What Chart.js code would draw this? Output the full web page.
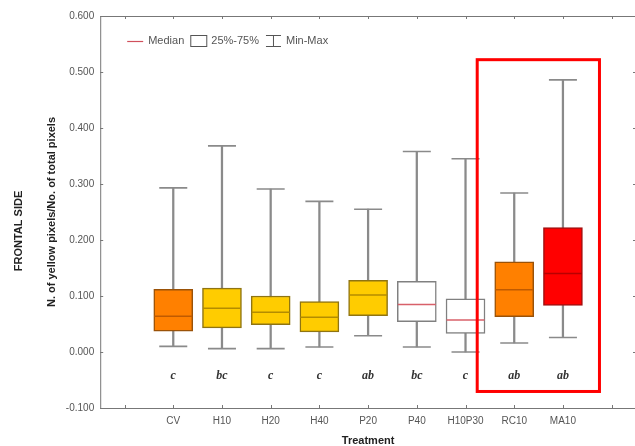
<!DOCTYPE html>
<html lang="en">
<head>
  <meta charset="UTF-8" />
  <title>Frontal side - yellow pixels</title>
  <script src="https://cdn.jsdelivr.net/npm/chart.js"></script>
  <style>
    html, body {
      margin: 0;
      padding: 0;
      background: #fff;
      overflow: hidden;
    }
  </style>
</head>
<body>
  <canvas id="boxChart" width="640" height="446"></canvas>

  <script>
    // values
    const treatments = ['CV', 'H10', 'H20', 'H40', 'P20', 'P40', 'H10P30', 'RC10', 'MA10'];
    const mins    = [0.010, 0.006, 0.006, 0.009, 0.029, 0.009, 0.000, 0.016, 0.026];
    const q1s     = [0.037, 0.043, 0.049, 0.036, 0.065, 0.054, 0.033, 0.063, 0.083];
    const medians = [0.064, 0.078, 0.071, 0.062, 0.102, 0.085, 0.057, 0.111, 0.140];
    const q3s     = [0.112, 0.114, 0.100, 0.090, 0.128, 0.126, 0.095, 0.161, 0.222];
    const maxs    = [0.293, 0.368, 0.291, 0.269, 0.255, 0.358, 0.345, 0.284, 0.486];
    const letters = ['c', 'bc', 'c', 'c', 'ab', 'bc', 'c', 'ab', 'ab'];
    const yTicks  = [-0.1, 0, 0.1, 0.2, 0.3, 0.4, 0.5, 0.6];

    const fills   = ['#ff8000', '#ffcc00', '#ffcc00', '#ffcc00', '#ffcc00', '#ffffff', '#ffffff', '#ff8000', '#ff0000'];
    const borders = ['#9a5208', '#8f7412', '#8f7412', '#8f7412', '#8f7412', '#808080', '#808080', '#9a5208', '#a01010'];
    const medCols = ['#c05a00', '#b48c00', '#b48c00', '#b48c00', '#b48c00', '#d8606a', '#d8606a', '#c05a00', '#b80000'];

    // highlight frame round RC10 / MA10 (category index, value)
    const highlight = { from: 7.24, to: 9.75, top: 0.522, bottom: -0.0705 };

    // one empty slot on each side, as in the original plot
    const labels = [''].concat(treatments, ['']);
    const pad = arr => [null].concat(arr, [null]);

    const font = "'Liberation Sans', Arial, sans-serif";

    const framePlugin = {
      id: 'frame',
      afterDatasetsDraw(chart) {
        const { ctx, chartArea: a, scales: { x, y } } = chart;
        ctx.save();
        ctx.strokeStyle = '#777';
        ctx.lineWidth = 1;
        ctx.strokeRect(a.left + 0.5, a.top + 0.5, a.right - a.left, a.bottom - a.top);
        ctx.beginPath();
        x.ticks.forEach((t, i) => {
          const px = Math.round(x.getPixelForTick(i)) + 0.5;
          ctx.moveTo(px, a.top); ctx.lineTo(px, a.top + 3);
          ctx.moveTo(px, a.bottom); ctx.lineTo(px, a.bottom - 3);
        });
        y.ticks.forEach((t, i) => {
          const py = Math.round(y.getPixelForTick(i)) + 0.5;
          ctx.moveTo(a.left, py); ctx.lineTo(a.left + 3, py);
          ctx.moveTo(a.right, py); ctx.lineTo(a.right - 3, py);
        });
        ctx.stroke();

        // significance letters
        ctx.fillStyle = '#333';
        ctx.font = "italic bold 12px 'Liberation Serif', 'Times New Roman', serif";
        ctx.textAlign = 'center';
        ctx.textBaseline = 'middle';
        letters.forEach((l, i) => {
          ctx.fillText(l, x.getPixelForValue(i + 1), y.getPixelForValue(-0.043));
        });

        // highlight frame
        const hl = x.getPixelForValue(highlight.from);
        const hr = x.getPixelForValue(highlight.to);
        const ht = y.getPixelForValue(highlight.top);
        const hb = y.getPixelForValue(highlight.bottom);
        ctx.strokeStyle = '#ff0000';
        ctx.lineWidth = 3;
        ctx.strokeRect(hl, ht, hr - hl, hb - ht);

        // legend
        ctx.font = '11px ' + font;
        ctx.fillStyle = '#555';
        ctx.textAlign = 'left';
        const ly = a.top + 25;
        let lx = a.left + 27;
        ctx.lineWidth = 1.2;
        ctx.strokeStyle = '#d0505c';
        ctx.beginPath(); ctx.moveTo(lx, ly + 0.5); ctx.lineTo(lx + 16, ly + 0.5); ctx.stroke();
        lx += 21;
        ctx.fillText('Median', lx, ly);
        lx += ctx.measureText('Median').width + 6;
        ctx.lineWidth = 1;
        ctx.strokeStyle = '#555';
        ctx.strokeRect(lx + 0.5, ly - 5.5, 16, 11);
        lx += 21;
        ctx.fillText('25%-75%', lx, ly);
        lx += ctx.measureText('25%-75%').width + 7;
        ctx.beginPath();
        ctx.moveTo(lx, ly - 5.5); ctx.lineTo(lx + 15, ly - 5.5);
        ctx.moveTo(lx + 7.5, ly - 5.5); ctx.lineTo(lx + 7.5, ly + 5.5);
        ctx.moveTo(lx, ly + 5.5); ctx.lineTo(lx + 15, ly + 5.5);
        ctx.stroke();
        lx += 20;
        ctx.fillText('Min-Max', lx, ly);
        ctx.restore();
      }
    };

    new Chart(document.getElementById('boxChart'), {
      data: {
        labels,
        datasets: [
          {
            type: 'bar',
            label: 'Min-Max',
            data: pad(mins.map((m, i) => [m, maxs[i]])),
            backgroundColor: '#8a8a8a',
            barThickness: 1.6,
            grouped: false,
            order: 4
          },
          {
            type: 'line',
            label: 'Min cap',
            data: pad(mins),
            showLine: false,
            pointStyle: 'line',
            pointRadius: 14,
            pointBorderWidth: 1.6,
            pointBorderColor: '#8a8a8a',
            order: 3
          },
          {
            type: 'line',
            label: 'Max cap',
            data: pad(maxs),
            showLine: false,
            pointStyle: 'line',
            pointRadius: 14,
            pointBorderWidth: 1.6,
            pointBorderColor: '#8a8a8a',
            order: 3
          },
          {
            type: 'bar',
            label: '25%-75%',
            data: pad(q1s.map((q, i) => [q, q3s[i]])),
            backgroundColor: pad(fills),
            borderColor: pad(borders),
            borderWidth: 1.5,
            borderSkipped: false,
            barThickness: 39,
            grouped: false,
            order: 2
          },
          {
            type: 'line',
            label: 'Median',
            data: pad(medians),
            showLine: false,
            pointStyle: 'line',
            pointRadius: 19,
            pointBorderWidth: 1.5,
            pointBorderColor: pad(medCols),
            order: 1
          }
        ]
      },
      options: {
        responsive: false,
        animation: false,
        events: [],
        layout: { autoPadding: false, padding: { top: 16, right: 4, left: 0, bottom: 0 } },
        plugins: {
          legend: { display: false },
          tooltip: { enabled: false },
          title: {
            display: true,
            position: 'left',
            text: 'FRONTAL SIDE',
            color: '#222',
            font: { family: font, size: 11, weight: 'bold' },
            padding: { top: 12, bottom: 6 }
          }
        },
        scales: {
          x: {
            type: 'category',
            offset: true,
            grid: { display: false, drawTicks: false },
            border: { display: false },
            ticks: {
              color: '#555',
              font: { family: font, size: 10 },
              padding: 7,
              autoSkip: false,
              maxRotation: 0
            },
            title: {
              display: true,
              text: 'Treatment',
              color: '#222',
              font: { family: font, size: 11, weight: 'bold' },
              padding: { top: 6, bottom: -2 }
            },
            afterFit(scale) { scale.height = 38; }
          },
          y: {
            min: -0.1,
            max: 0.6,
            grid: { display: false, drawTicks: false },
            border: { display: false },
            afterBuildTicks(scale) { scale.ticks = yTicks.map(v => ({ value: v })); },
            ticks: {
              color: '#555',
              font: { family: font, size: 10 },
              padding: 6,
              callback: v => v.toFixed(3)
            },
            title: {
              display: true,
              text: 'N. of yellow pixels/No. of total pixels',
              color: '#222',
              font: { family: font, size: 11, weight: 'bold' },
              padding: { top: 14, bottom: 9 }
            },
            afterFit(scale) { scale.width = 69; }
          }
        }
      },
      plugins: [framePlugin]
    });
  </script>
</body>
</html>
